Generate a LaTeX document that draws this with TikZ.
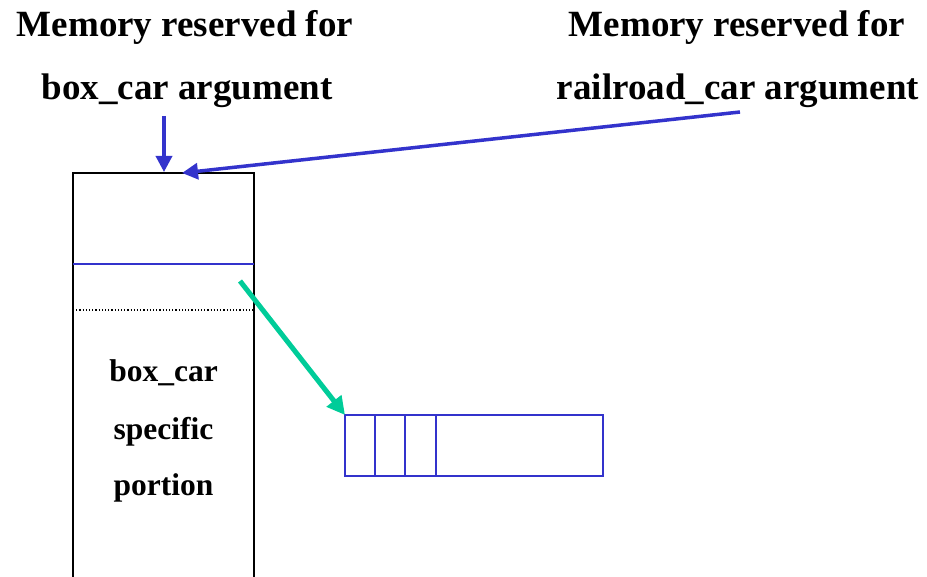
\documentclass[tikz,border=0pt]{standalone}
\usepackage{fontspec}
\setmainfont{Liberation Serif}
\usetikzlibrary{arrows.meta,positioning}

\definecolor{ptrblue}{RGB}{51,51,204}
\definecolor{ptrgreen}{RGB}{0,204,153}

\begin{document}
\begin{tikzpicture}[x=1pt,y=-1pt]
    \tikzset{
        head text/.style={font=\fontsize{37}{40}\selectfont\bfseries, inner sep=0pt, anchor=base},
        body text/.style={font=\fontsize{31.5}{36}\selectfont\bfseries, inner sep=0pt, anchor=base},
        blue arrow/.style={draw=ptrblue, line width=3.5pt, -{Triangle[length=16pt,width=16pt]}},
        green arrow/.style={draw=ptrgreen, line width=5pt, -{Triangle[length=18pt,width=18pt]}},
    }
    \useasboundingbox (0,0) rectangle (927,577);

    % headings
    \node[head text] (boxhead1) at (185,37) {Memory reserved for};
    \node[head text] (boxhead2) at (187,100) {box\_car argument};
    \node[head text] (railhead1) at (737,37) {Memory reserved for};
    \node[head text] (railhead2) at (738,100) {railroad\_car argument};

    % the box_car object, open at the bottom
    \coordinate (tl) at (73,173);
    \coordinate (tr) at (254,173);
    \draw[line width=1.5pt] (73,580) -- (tl) -- (tr) -- (254,580);
    \draw[ptrblue, line width=1.2pt] (73,264) -- (254,264);
    \draw[dotted, line width=1.2pt] (73,310) -- (254,310);

    \node[body text] (part1) at (163.5,382) {box\_car};
    \node[body text] (part2) at (163.5,439) {specific};
    \node[body text] (part3) at (163.5,495) {portion};

    % the small array
    \draw[ptrblue, line width=1.2pt] (345,415) coordinate (arr) rectangle (603,476);
    \foreach \x in {375,405,436}
        \draw[ptrblue, line width=1.2pt] (\x,415) -- (\x,476);

    % pointers
    \coordinate (ptr1) at (164,116);
    \coordinate (ptr2) at (740,112);
    \coordinate (hit1) at (164,172);
    \coordinate (hit2) at (182,173);
    \coordinate (vptr) at (240,281);
    \draw[blue arrow] (ptr1) -- (hit1);
    \draw[blue arrow] (ptr2) -- (hit2);
    \draw[green arrow] (vptr) -- (arr);
\end{tikzpicture}
\end{document}
